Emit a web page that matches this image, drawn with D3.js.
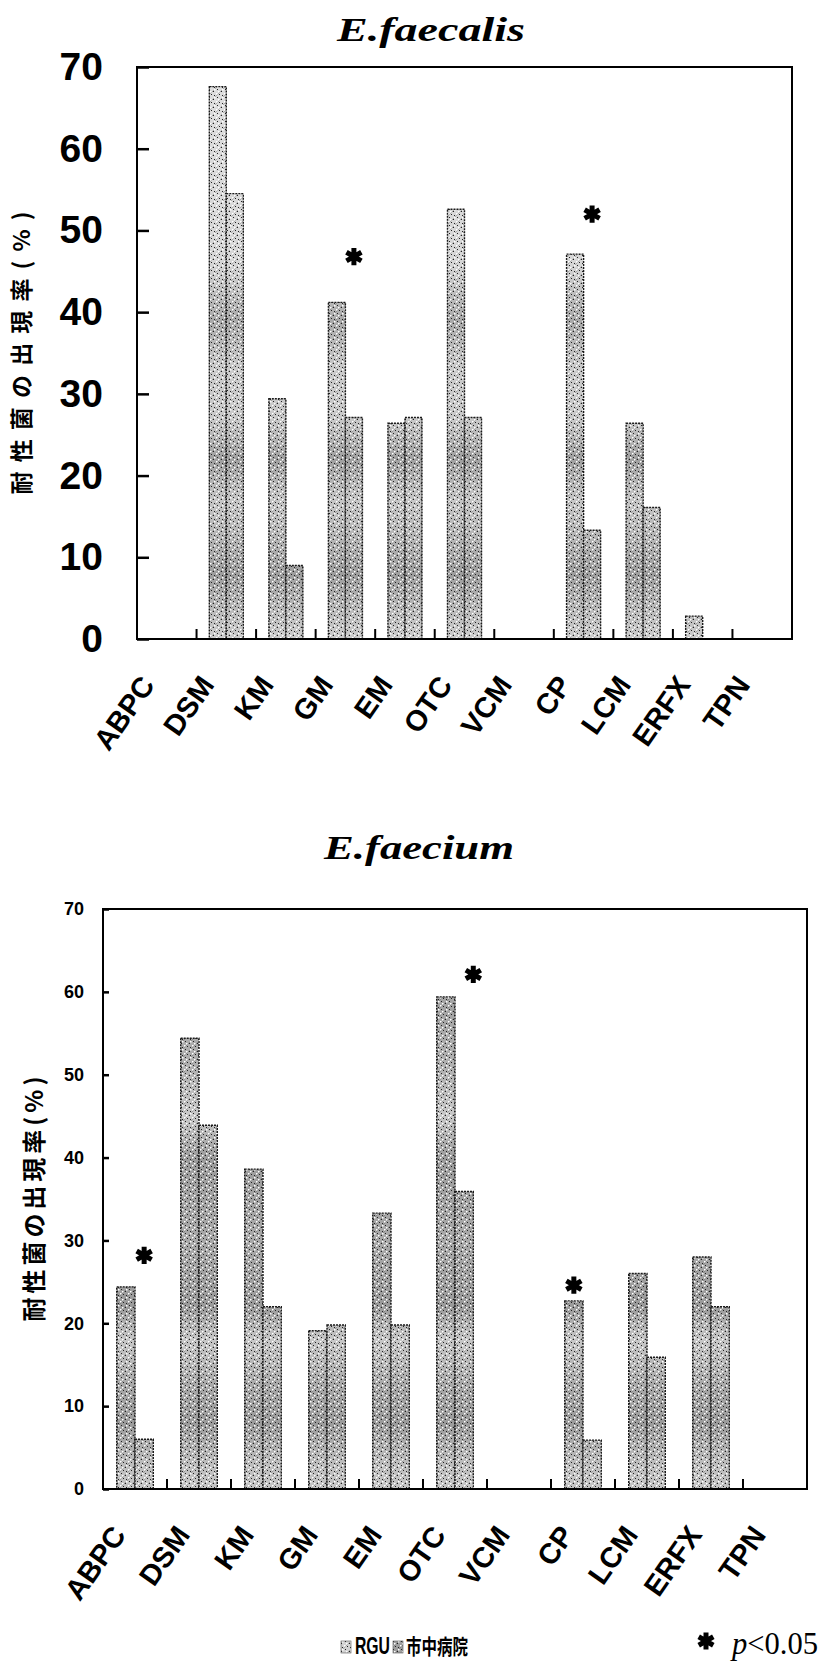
<!DOCTYPE html>
<html>
<head>
<meta charset="utf-8">
<script src="https://cdn.jsdelivr.net/npm/d3@7"></script>
<style>
  body { margin: 0; background: #fff; }
  svg { display: block; }
</style>
</head>
<body>
<svg id="chart"></svg>
<script>
// ---- data ----
const drugs = ['ABPC', 'DSM', 'KM', 'GM', 'EM', 'OTC', 'VCM', 'CP', 'LCM', 'ERFX', 'TPN'];
const seriesNames = ['RGU', '市中病院'];
const faecalisRGU  = [0, 67.6, 29.4, 41.2, 26.4, 52.6, 0, 47.1, 26.4, 2.8, 0];
const faecalisCity = [0, 54.5, 9.0, 27.1, 27.1, 27.1, 0, 13.3, 16.1, 0, 0];
const faeciumRGU   = [24.4, 54.4, 38.6, 19.1, 33.3, 59.4, 0, 22.7, 26.0, 28.0, 0];
const faeciumCity  = [6.0, 43.9, 22.0, 19.8, 19.8, 35.9, 0, 5.9, 15.9, 22.0, 0];
const yTicks = [0, 10, 20, 30, 40, 50, 60, 70];
// significance marks: [drug, series index, level]
const faecalisSig = [['GM', 1, 46.8], ['CP', 1, 52.0]];
const faeciumSig  = [['ABPC', 1, 28.2], ['OTC', 1, 62.1], ['CP', 0, 24.6]];
const yTitle = '耐性菌の出現率(%)';

const width = 823, height = 1665;

const svg = d3.select('#chart')
    .attr('width', width)
    .attr('height', height)
    .attr('viewBox', `0 0 ${width} ${height}`);

const defs = svg.append('defs');

// speckle / hatch texture laid over the bars
const pat = defs.append('pattern')
    .attr('id', 'speck')
    .attr('patternUnits', 'userSpaceOnUse')
    .attr('width', 8).attr('height', 8);
pat.append('path')
    .attr('d', 'M0,8 L8,0 M-2,2 L2,-2 M6,10 L10,6')
    .attr('stroke', '#444').attr('stroke-width', 0.6).attr('opacity', 0.55);
[[1, 1], [5, 3], [3, 6], [6, 7]].forEach(([x, y]) => {
    pat.append('rect').attr('x', x).attr('y', y).attr('width', 1).attr('height', 1)
        .attr('fill', '#222');
});
[[2, 3], [6, 1], [0, 5]].forEach(([x, y]) => {
    pat.append('rect').attr('x', x).attr('y', y).attr('width', 1.5).attr('height', 1.5)
        .attr('fill', '#fff');
});

const panels = [
    {
        id: 'fs', title: 'E.faecalis', titleX: 431, titleY: 41, titleLen: 188,
        left: 137, right: 792, top: 67, bottom: 639,
        tickSize: 12, tickPad: 34, tickFont: 39,
        yTitleX: 22, yTitleLen: 283, yTitleSize: 23,
        xLabelDx: -11, xLabelDy: 46,
        rgu: faecalisRGU, city: faecalisCity, sig: faecalisSig,
        shade: [[70, '#dedede'], [46, '#d6d6d6'], [39, '#a9a9a9'], [33, '#cbcbcb'],
                [27, '#c9c9c9'], [22, '#9f9f9f'], [17, '#c6c6c6'], [12, '#b3b3b3'],
                [8, '#9d9d9d'], [3, '#bdbdbd'], [0, '#cdcdcd']]
    },
    {
        id: 'fm', title: 'E.faecium', titleX: 419, titleY: 859, titleLen: 190,
        left: 103, right: 807, top: 909, bottom: 1489,
        tickSize: 6, tickPad: 19, tickFont: 18,
        yTitleX: 34, yTitleLen: 245, yTitleSize: 24,
        xLabelDx: -8, xLabelDy: 46,
        rgu: faeciumRGU, city: faeciumCity, sig: faeciumSig,
        shade: [[70, '#b0b0b0'], [58, '#a4a4a4'], [50, '#b3b3b3'], [45, '#c9c9c9'],
                [40, '#9c9c9c'], [30, '#a9a9a9'], [22, '#9a9a9a'], [18, '#c7c7c7'],
                [12, '#a6a6a6'], [8, '#9b9b9b'], [3, '#bebebe'], [0, '#c6c6c6']]
    }
];

const star = d3.symbol().type(d3.symbolAsterisk).size(210);

panels.forEach(p => {
    const g = svg.append('g');

    const x = d3.scaleBand().domain(drugs).range([p.left, p.right]);
    const xs = d3.scaleBand().domain([0, 1]).range([0, x.bandwidth()]).paddingOuter(0.75);
    const y = d3.scaleLinear().domain([0, 70]).range([p.bottom, p.top]);

    // vertical shading like the scanned halftone
    const grad = defs.append('linearGradient')
        .attr('id', 'shade-' + p.id)
        .attr('gradientUnits', 'userSpaceOnUse')
        .attr('x1', 0).attr('x2', 0)
        .attr('y1', y(70)).attr('y2', y(0));
    p.shade.forEach(([v, c]) => {
        grad.append('stop').attr('offset', (y(v) - y(70)) / (y(0) - y(70))).attr('stop-color', c);
    });

    // title
    g.append('text')
        .attr('x', p.titleX).attr('y', p.titleY)
        .attr('text-anchor', 'middle')
        .attr('font-family', '"Liberation Serif", "DejaVu Serif", serif')
        .attr('font-weight', 'bold').attr('font-style', 'italic')
        .attr('font-size', 33)
        .attr('textLength', p.titleLen).attr('lengthAdjust', 'spacingAndGlyphs')
        .text(p.title);

    // bars
    const rows = [];
    drugs.forEach((d, i) => {
        [p.rgu[i], p.city[i]].forEach((v, s) => { if (v > 0) rows.push({ drug: d, s, v }); });
    });
    const bars = g.append('g').selectAll('g').data(rows).join('g');
    bars.append('rect')
        .attr('x', d => x(d.drug) + xs(d.s))
        .attr('y', d => y(d.v))
        .attr('width', xs.bandwidth())
        .attr('height', d => y(0) - y(d.v))
        .attr('fill', `url(#shade-${p.id})`);
    bars.append('rect')
        .attr('x', d => x(d.drug) + xs(d.s))
        .attr('y', d => y(d.v))
        .attr('width', xs.bandwidth())
        .attr('height', d => y(0) - y(d.v))
        .attr('fill', 'url(#speck)')
        .attr('stroke', '#1a1a1a')
        .attr('stroke-width', 1.4)
        .attr('stroke-dasharray', '2,1');

    // frame
    g.append('rect')
        .attr('x', p.left).attr('y', p.top)
        .attr('width', p.right - p.left).attr('height', p.bottom - p.top)
        .attr('fill', 'none').attr('stroke', '#000').attr('stroke-width', 2);

    // y axis, ticks pointing inward
    const yAxis = d3.axisLeft(y).tickValues(yTicks).tickSize(-p.tickSize).tickPadding(p.tickPad);
    const ya = g.append('g').attr('transform', `translate(${p.left},0)`).call(yAxis);
    ya.select('.domain').remove();
    ya.selectAll('line').attr('stroke', '#000').attr('stroke-width', 2.5);
    ya.selectAll('text')
        .attr('font-family', '"Liberation Sans", Arial, sans-serif')
        .attr('font-weight', 'bold')
        .attr('font-size', p.tickFont)
        .attr('fill', '#000');

    // x ticks on the band boundaries, pointing up
    g.append('g').selectAll('line')
        .data(drugs.slice(1))
        .join('line')
        .attr('x1', d => x(d)).attr('x2', d => x(d))
        .attr('y1', y(0)).attr('y2', y(0) - 10)
        .attr('stroke', '#000').attr('stroke-width', 2);

    // x labels rotated
    g.append('g').selectAll('text')
        .data(drugs)
        .join('text')
        .attr('transform', d => `translate(${x(d) + x.bandwidth() / 2 + p.xLabelDx},${y(0) + p.xLabelDy}) rotate(-55)`)
        .attr('text-anchor', 'end')
        .attr('font-family', '"Liberation Sans", Arial, sans-serif')
        .attr('font-weight', 'bold')
        .attr('font-size', 29)
        .text(d => d);

    // y title
    g.append('text')
        .attr('transform', `translate(${p.yTitleX},${(p.top + p.bottom) / 2}) rotate(-90)`)
        .attr('text-anchor', 'middle')
        .attr('dy', '0.36em')
        .attr('font-family', '"Noto Sans CJK JP", "Noto Sans CJK SC", sans-serif')
        .attr('font-weight', 'bold')
        .attr('font-size', p.yTitleSize)
        .attr('textLength', p.yTitleLen).attr('lengthAdjust', 'spacing')
        .text(yTitle);

    // significance asterisks
    g.append('g').selectAll('path')
        .data(p.sig)
        .join('path')
        .attr('transform', d => `translate(${x(d[0]) + xs(d[1]) + xs.bandwidth() * (d[0] === 'OTC' ? 1 : 0.5)},${y(d[2])})`)
        .attr('d', star)
        .attr('stroke', '#000')
        .attr('stroke-width', 5)
        .attr('fill', 'none');
});

// legend
const lg = svg.append('g');
const legendItems = [
    { sx: 341, fill: '#d2d2d2', tx: 355, font: '"Liberation Sans", Arial, sans-serif', size: 24, len: 35 },
    { sx: 393, fill: '#9e9e9e', tx: 406, font: '"Noto Sans CJK JP", sans-serif', size: 21, len: 62 }
];
legendItems.forEach((s, i) => {
    lg.append('rect').attr('x', s.sx).attr('y', 1641).attr('width', 10).attr('height', 12).attr('fill', s.fill);
    lg.append('rect').attr('x', s.sx).attr('y', 1641).attr('width', 10).attr('height', 12)
        .attr('fill', 'url(#speck)').attr('stroke', '#555').attr('stroke-width', 0.6);
    lg.append('text')
        .attr('x', s.tx).attr('y', 1654)
        .attr('font-family', s.font)
        .attr('font-weight', 'bold')
        .attr('font-size', s.size)
        .attr('textLength', s.len).attr('lengthAdjust', 'spacingAndGlyphs')
        .text(seriesNames[i]);
});

lg.append('path')
    .attr('transform', 'translate(706,1641)')
    .attr('d', d3.symbol().type(d3.symbolAsterisk).size(200))
    .attr('stroke', '#000').attr('stroke-width', 5).attr('fill', 'none');
const pt = lg.append('text')
    .attr('x', 732).attr('y', 1654)
    .attr('font-family', '"Liberation Serif", "DejaVu Serif", serif')
    .attr('font-size', 31)
    .attr('textLength', 86).attr('lengthAdjust', 'spacingAndGlyphs');
pt.append('tspan').attr('font-style', 'italic').text('p');
pt.append('tspan').text('<0.05');
</script>
</body>
</html>
